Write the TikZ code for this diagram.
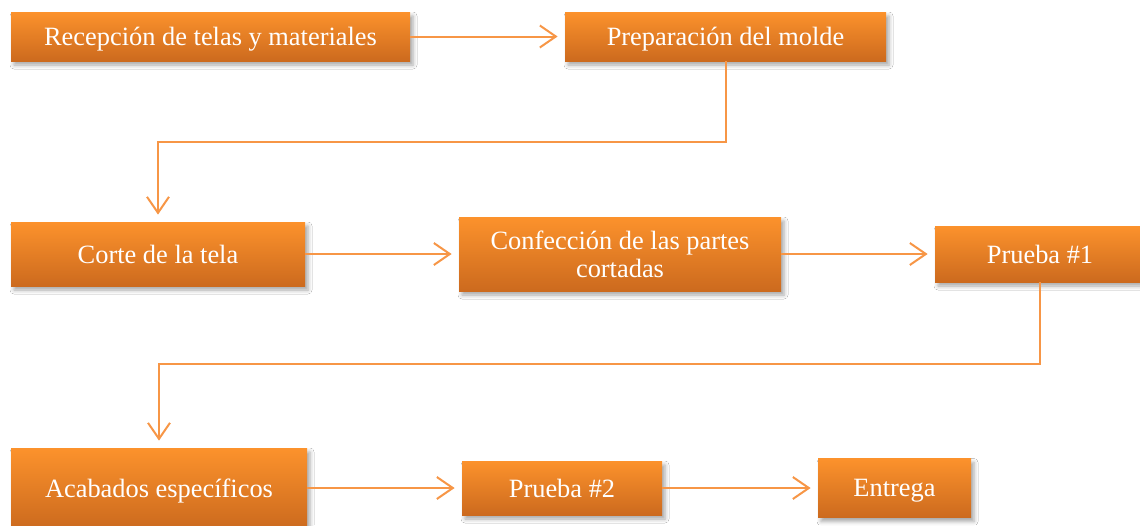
\documentclass[tikz,border=0pt]{standalone}
\usepackage{fontspec}
\setmainfont{Liberation Serif}
\usepackage{tikz}
\usetikzlibrary{arrows.meta,shadows.blur}

\definecolor{naranja}{RGB}{247,150,70}
\definecolor{naranjaarriba}{RGB}{252,146,44}
\definecolor{naranjaabajo}{RGB}{204,106,30}

\begin{document}
\begin{tikzpicture}[x=0.5pt, y=-0.5pt,
  paso/.style={rectangle, inner sep=0pt, text=white, align=center,
    font=\fontsize{13.2}{14}\selectfont, text depth=0pt,
    top color=naranjaarriba, bottom color=naranjaabajo,
    blur shadow={shadow xshift=1.5pt, shadow yshift=-2pt, shadow blur radius=2pt, shadow opacity=35}},
  flecha/.style={naranja, line width=1pt, -{Straight Barb[length=8pt,width=11pt]}, shorten >=3.5pt}]
\useasboundingbox (0,0) rectangle (1140,525);
\fill[white] (0,0) rectangle (1140,525);
% primera fila
\node[paso, minimum width=199.5pt, minimum height=24.5pt] (recepcion) at (210.5,36.5) {Recepción de telas y materiales};
\node[paso, minimum width=160.5pt, minimum height=24.5pt] (molde) at (725.5,36.5) {Preparación del molde};
% segunda fila
\node[paso, minimum width=147pt, minimum height=32pt] (corte) at (158,254) {Corte de la tela};
\node[paso, minimum width=161pt, minimum height=37pt, text depth=] (confeccion) at (620,254) {Confección de las partes\\cortadas};
\node[paso, minimum width=105pt, minimum height=28pt] (prueba1) at (1040,254) {Prueba \#1};
% tercera fila
\node[paso, minimum width=148pt, minimum height=40pt] (acabados) at (159,488) {Acabados específicos};
\node[paso, minimum width=100pt, minimum height=27pt] (prueba2) at (562,488) {Prueba \#2};
\node[paso, minimum width=76.5pt, minimum height=29.5pt] (entrega) at (894.5,488) {Entrega};
% conectores
\draw[flecha] (recepcion.east) -- (molde.west);
\draw[flecha] (molde.south) -- ++(0,81) -| (corte.north);
\draw[flecha] (corte.east) -- (confeccion.west);
\draw[flecha] (confeccion.east) -- (prueba1.west);
\draw[flecha] (prueba1.south) -- ++(0,82) -| (acabados.north);
\draw[flecha] (acabados.east) -- (prueba2.west);
\draw[flecha] (prueba2.east) -- (entrega.west);
\end{tikzpicture}
\end{document}
